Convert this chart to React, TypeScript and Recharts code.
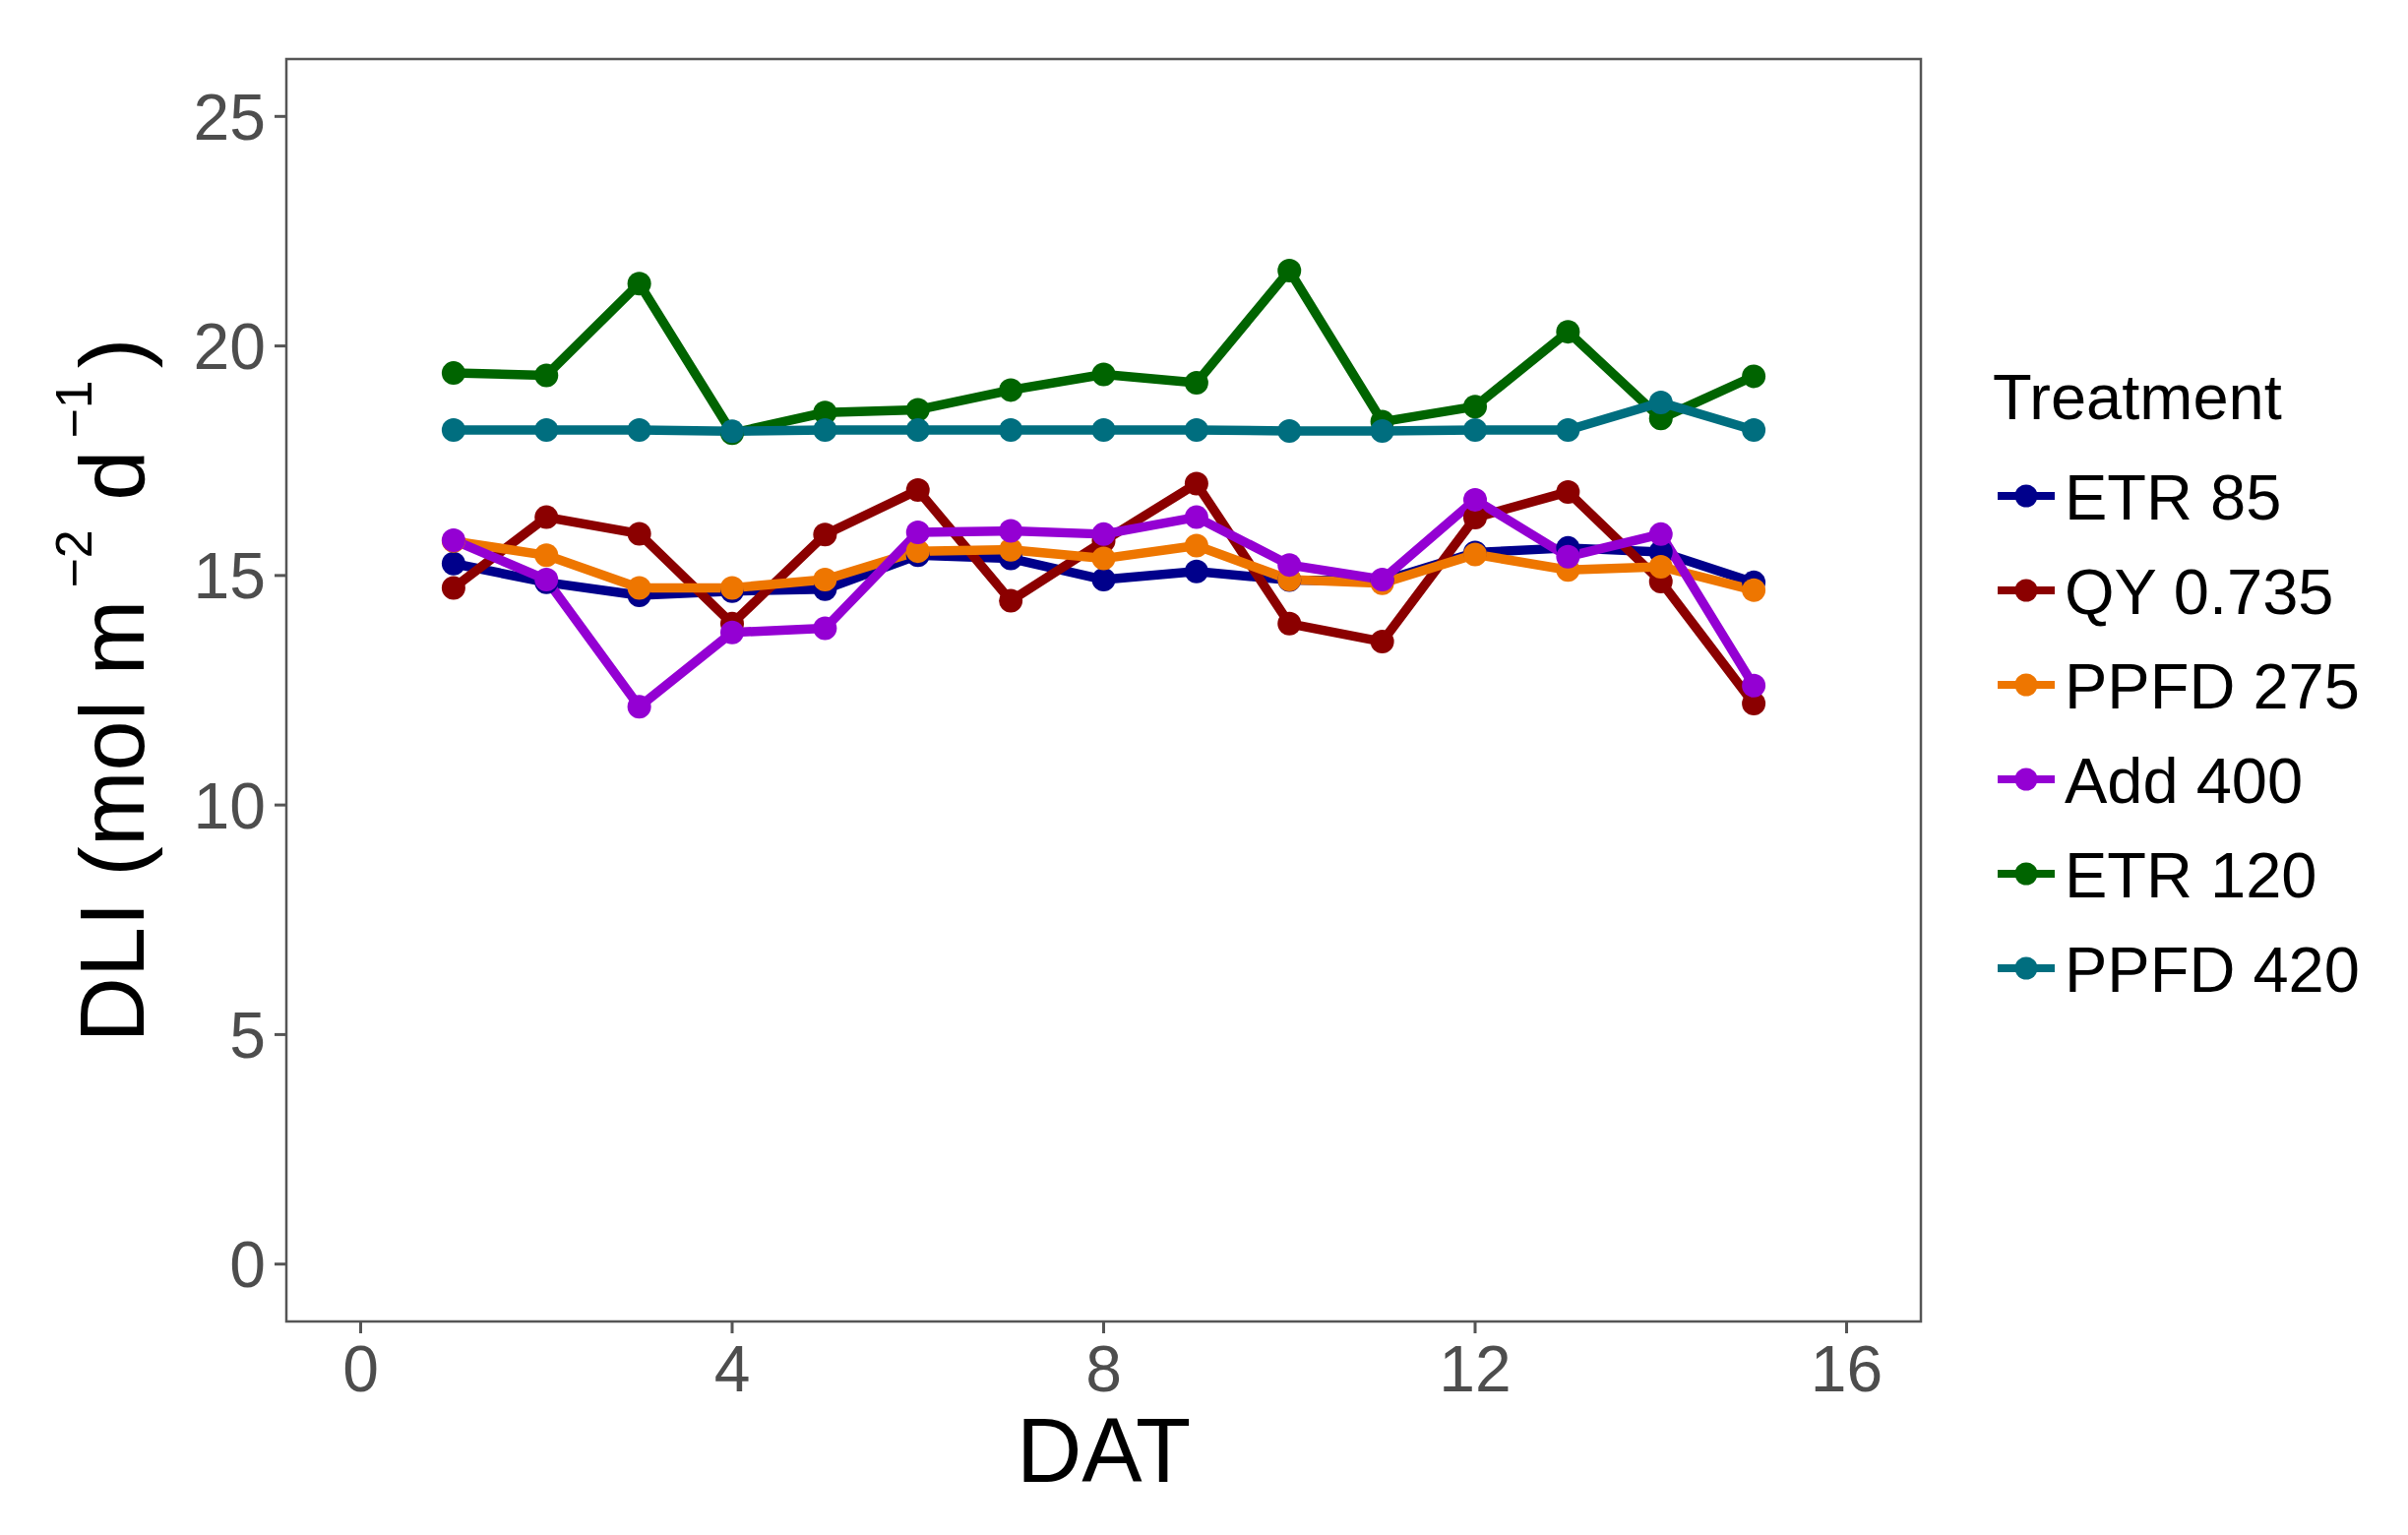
import * as React from "react";
import {
  LineChart,
  Line,
  XAxis,
  YAxis,
  Legend,
  ReferenceArea,
} from "recharts";

const FONT = '"Liberation Sans", Arial, Helvetica, sans-serif';

// days after transplant
const days = [1, 2, 3, 4, 5, 6, 7, 8, 9, 10, 11, 12, 13, 14, 15];

// DLI per treatment (mol m-2 d-1)
const etr85 = [15.26, 14.85, 14.57, 14.66, 14.7, 15.44, 15.37, 14.91, 15.09, 14.9, 14.88, 15.5, 15.6, 15.51, 14.85];
const qy0735 = [14.73, 16.27, 15.91, 13.95, 15.89, 16.86, 14.45, 15.75, 17.0, 13.95, 13.56, 16.26, 16.82, 14.87, 12.21];
const ppfd275 = [15.75, 15.44, 14.73, 14.73, 14.91, 15.53, 15.56, 15.37, 15.65, 14.91, 14.83, 15.46, 15.12, 15.19, 14.68];
const add400 = [15.77, 14.91, 12.14, 13.76, 13.85, 15.94, 15.97, 15.9, 16.27, 15.23, 14.91, 16.65, 15.41, 15.9, 12.6];
const etr120 = [19.41, 19.36, 21.36, 18.1, 18.55, 18.61, 19.04, 19.38, 19.2, 21.64, 18.35, 18.68, 20.31, 18.42, 19.34];
const ppfd420 = [18.17, 18.17, 18.17, 18.14, 18.17, 18.17, 18.17, 18.17, 18.17, 18.15, 18.15, 18.17, 18.17, 18.77, 18.17];

const xTicks = [0, 4, 8, 12, 16];
const yTicks = [0, 5, 10, 15, 20, 25];

const SERIES = [
  { key: "etr85", name: "ETR 85", color: "#00008B", values: etr85 },
  { key: "qy0735", name: "QY 0.735", color: "#8B0000", values: qy0735 },
  { key: "ppfd275", name: "PPFD 275", color: "#EE7600", values: ppfd275 },
  { key: "add400", name: "Add 400", color: "#9400D3", values: add400 },
  { key: "etr120", name: "ETR 120", color: "#006400", values: etr120 },
  { key: "ppfd420", name: "PPFD 420", color: "#006E7F", values: ppfd420 },
];

const data = days.map((d, i) => {
  const row: Record<string, number> = { day: d };
  SERIES.forEach((s) => {
    row[s.key] = s.values[i];
  });
  return row;
});

function YTitle(props: any) {
  const vb = props?.viewBox ?? { x: 0, y: 60, width: 291, height: 1283 };
  const x = vb.x + 146;
  const y = vb.y + vb.height / 2;
  return (
    <text
      x={x}
      y={y}
      transform={`rotate(-90 ${x} ${y})`}
      textAnchor="middle"
      fontSize={92}
      fontFamily={FONT}
      fill="#000"
    >
      DLI (mol m
      <tspan fontSize={52} dx={12} dy={-53}>−2</tspan>
      <tspan dx={4} dy={53}> d</tspan>
      <tspan fontSize={52} dx={12} dy={-53}>−1</tspan>
      <tspan dx={12} dy={53}>)</tspan>
    </text>
  );
}

function XTitle(props: any) {
  const vb = props?.viewBox ?? { x: 291, y: 1343, width: 1661, height: 217 };
  return (
    <text
      x={vb.x + vb.width / 2}
      y={vb.y + 163}
      textAnchor="middle"
      fontSize={92}
      fontFamily={FONT}
      fill="#000"
    >
      DAT
    </text>
  );
}

function LegendBox() {
  return (
    <svg width={420} height={660} style={{ display: "block", overflow: "visible" }}>
      <text x={5} y={76} fontSize={65} fontFamily={FONT} fill="#000">
        Treatment
      </text>
      {SERIES.map((s, i) => {
        const cy = 154 + i * 96;
        return (
          <g key={s.key}>
            <line x1={10} x2={68} y1={cy} y2={cy} stroke={s.color} strokeWidth={8} />
            <circle cx={39} cy={cy} r={11.5} fill={s.color} />
            <text x={78} y={cy + 24} fontSize={65} fontFamily={FONT} fill="#000">
              {s.name}
            </text>
          </g>
        );
      })}
    </svg>
  );
}

export default function App() {
  return (
    <div
      style={{
        position: "absolute",
        left: 0,
        top: 0,
        width: 2447,
        height: 1560,
        background: "#fff",
      }}
    >
      <LineChart
        width={2447}
        height={1560}
        data={data}
        margin={{ top: 60, right: 495, bottom: 0, left: 0 }}
      >
        <XAxis
          dataKey="day"
          type="number"
          domain={[-0.8, 16.8]}
          ticks={xTicks}
          allowDataOverflow
          height={217}
          axisLine={false}
          tickSize={12}
          tickMargin={12}
          tickLine={{ stroke: "#555", strokeWidth: 3 }}
          tick={{ fill: "#4d4d4d", fontSize: 66, fontFamily: FONT }}
          label={(p: any) => <XTitle {...p} />}
        />
        <YAxis
          type="number"
          domain={[-1.25, 26.25]}
          ticks={yTicks}
          allowDataOverflow
          width={291}
          axisLine={false}
          tickSize={12}
          tickMargin={9}
          tickLine={{ stroke: "#555", strokeWidth: 3 }}
          tick={{ fill: "#4d4d4d", fontSize: 66, fontFamily: FONT }}
          label={(p: any) => <YTitle {...p} />}
        />
        <ReferenceArea
          x1={-0.8}
          x2={16.8}
          y1={-1.25}
          y2={26.25}
          fill="none"
          fillOpacity={0}
          stroke="#555"
          strokeWidth={2.5}
          ifOverflow="visible"
        />
        {SERIES.map((s) => (
          <Line
            key={`${s.key}-line`}
            dataKey={s.key}
            name={s.name}
            type="linear"
            stroke={s.color}
            strokeWidth={9.5}
            strokeLinejoin="round"
            dot={false}
            activeDot={false}
            isAnimationActive={false}
          />
        ))}
        {SERIES.map((s) => (
          <Line
            key={`${s.key}-pts`}
            dataKey={s.key}
            name={`${s.name} points`}
            type="linear"
            stroke="none"
            strokeWidth={0}
            legendType="none"
            dot={{ r: 12, fill: s.color, stroke: "none", strokeWidth: 0 }}
            activeDot={false}
            isAnimationActive={false}
          />
        ))}
        <Legend
          layout="vertical"
          align="center"
          verticalAlign="middle"
          content={() => <LegendBox />}
          wrapperStyle={{
            position: "absolute",
            left: 2020,
            top: 350,
            width: 420,
            height: 660,
            margin: 0,
            padding: 0,
          }}
        />
      </LineChart>
    </div>
  );
}
